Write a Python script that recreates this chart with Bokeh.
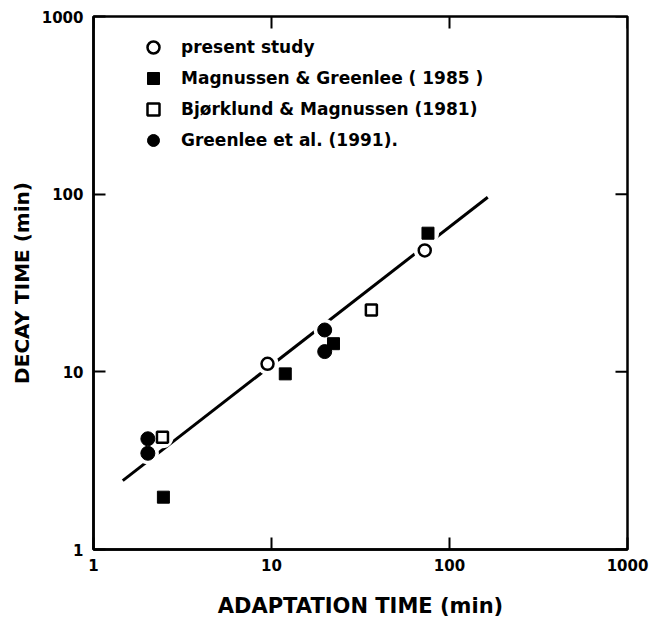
import math
from bokeh.plotting import figure
from bokeh.models import FixedTicker, Legend, LegendItem, Range1d
from bokeh.embed import file_html
from bokeh.resources import INLINE

# ---- data ----
present_x = [9.5, 72.6]
present_y = [11.1, 48.2]
mg1985_x = [2.47, 11.95, 22.3, 75.7]
mg1985_y = [1.97, 9.74, 14.4, 60.3]
bm1981_x = [2.44, 36.4]
bm1981_y = [4.29, 22.3]
g1991_x = [2.02, 2.02, 19.9, 19.9]
g1991_y = [4.2, 3.48, 17.2, 13.0]
fit_x = [1.46, 164.0]
fit_y = [2.44, 96.1]
ticks = [1, 10, 100, 1000]
tick_labels = ["1", "10", "100", "1000"]
series_labels = ["present study", "Magnussen & Greenlee ( 1985 )",
                 "Bjørklund & Magnussen (1981)", "Greenlee et al. (1991)."]
x_title = "ADAPTATION TIME (min)"
y_title = "DECAY TIME (min)"
x_lo, x_hi = 1, 1000
y_lo, y_hi = 1, 1000

FONT = "DejaVu Sans"

p = figure(x_axis_type="log", y_axis_type="log",
           x_range=Range1d(x_lo, x_hi), y_range=Range1d(y_lo, y_hi),
           frame_width=534, frame_height=533,
           min_border_left=93, min_border_top=16, min_border_right=25,
           min_border_bottom=68,
           output_backend="svg", toolbar_location=None)
p.background_fill_color = "white"
p.border_fill_color = "white"
p.xgrid.visible = False
p.ygrid.visible = False
p.outline_line_color = "black"
p.outline_line_width = 2.5

overrides = {t: l for t, l in zip(ticks, tick_labels)}


def style_axis(ax):
    ax.ticker = FixedTicker(ticks=ticks)
    ax.major_label_overrides = overrides
    ax.axis_line_color = "black"
    ax.axis_line_width = 2.5
    ax.major_tick_line_color = "black"
    ax.major_tick_line_width = 2
    ax.major_tick_in = 12
    ax.major_tick_out = 0
    ax.minor_tick_in = 0
    ax.minor_tick_out = 0
    ax.minor_tick_line_color = None
    ax.major_label_text_font = FONT
    ax.major_label_text_font_style = "bold"
    ax.major_label_text_font_size = "15px"
    ax.major_label_text_color = "black"
    ax.axis_label_text_font = FONT
    ax.axis_label_text_font_style = "bold"
    ax.axis_label_text_color = "black"


for ax in p.xaxis:
    style_axis(ax)
    ax.axis_label = x_title
    ax.axis_label_text_font_size = "21px"
    ax.major_label_standoff = 9
    ax.axis_label_standoff = 20
for ax in p.yaxis:
    style_axis(ax)
    ax.axis_label = y_title
    ax.axis_label_text_font_size = "20px"
    ax.major_label_standoff = 10
    ax.axis_label_standoff = 5

# inward ticks on the top and right frame edges (clipped to the frame)
p.scatter(ticks, [y_hi] * len(ticks), marker="dash", angle=math.pi / 2,
          size=24, line_color="black", line_width=2)
p.scatter([x_hi] * len(ticks), ticks, marker="dash", angle=0,
          size=24, line_color="black", line_width=2)

# regression line
p.line(fit_x, fit_y, line_color="black", line_width=3)

# white halos that break the line around the markers
all_x = present_x + mg1985_x + bm1981_x + g1991_x
all_y = present_y + mg1985_y + bm1981_y + g1991_y
p.scatter(all_x, all_y, marker="circle", size=22, fill_color="white",
          line_color=None)

r1 = p.scatter(present_x, present_y, marker="circle", size=12,
               fill_color="white", line_color="black", line_width=2.5)
r2 = p.scatter(mg1985_x, mg1985_y, marker="square", size=12,
               fill_color="black", line_color="black", line_width=1)
r3 = p.scatter(bm1981_x, bm1981_y, marker="square", size=11,
               fill_color="white", line_color="black", line_width=2.5)
r4 = p.scatter(g1991_x, g1991_y, marker="circle", size=14,
               fill_color="black", line_color="black", line_width=1)

legend = Legend(items=[LegendItem(label=series_labels[0], renderers=[r1]),
                       LegendItem(label=series_labels[1], renderers=[r2]),
                       LegendItem(label=series_labels[2], renderers=[r3]),
                       LegendItem(label=series_labels[3], renderers=[r4])],
                location=(45, 394), orientation="vertical",
                border_line_color=None, background_fill_alpha=0,
                padding=0, margin=0, spacing=1,
                glyph_width=30, glyph_height=30, label_height=30,
                label_standoff=13, label_text_font=FONT,
                label_text_font_size="17px", label_text_font_style="bold",
                label_text_color="black")
p.add_layout(legend)

open("out.html", "w").write(file_html(p, INLINE))
